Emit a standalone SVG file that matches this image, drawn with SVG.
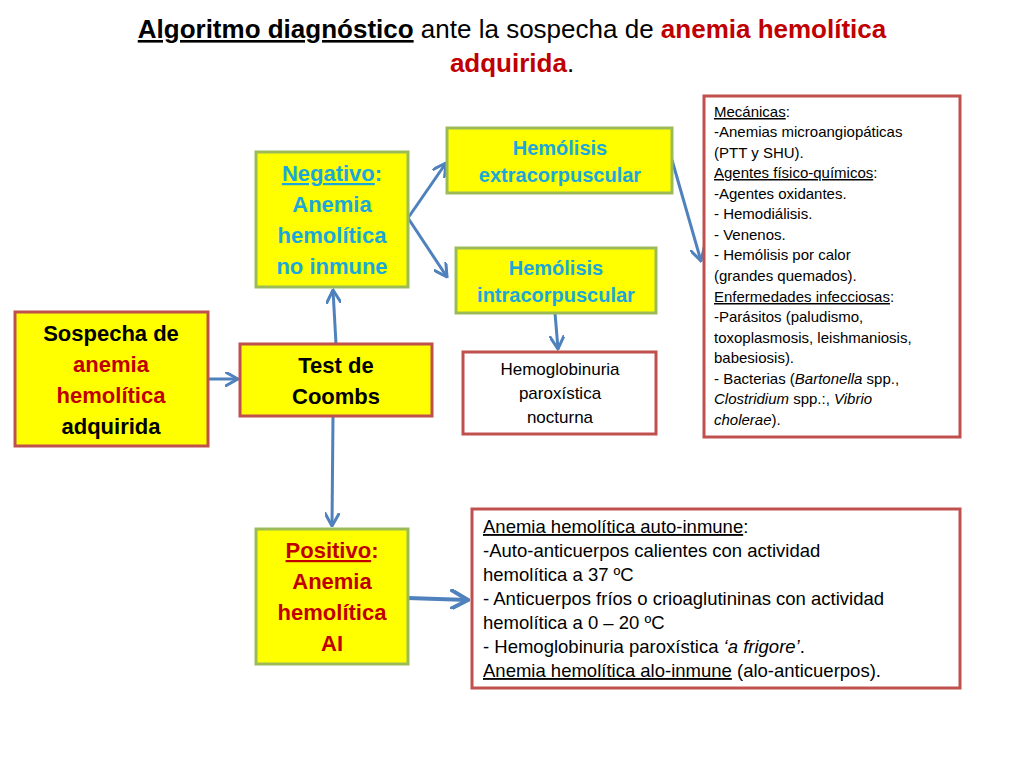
<svg xmlns="http://www.w3.org/2000/svg" width="1024" height="768" viewBox="0 0 1024 768">
<style>
text{font-family:"Liberation Sans","DejaVu Sans",sans-serif}
.y{fill:#ffff00;stroke:#9bbb59;stroke-width:3}
.r{stroke:#c0504d;stroke-width:3}
.b{font-weight:bold;font-size:22px;text-anchor:middle}
.cy{fill:#1aa7dc}
.dr{fill:#c00000}
.s{font-size:15px}
.m{font-size:18.5px}
.c line{stroke:#4f81bd;stroke-width:3;marker-end:url(#a)}
</style>
<defs><marker id="a" viewBox="0 0 10 10" refX="9" refY="5" markerWidth="5" markerHeight="5" orient="auto" markerUnits="strokeWidth"><path d="M0,0L9,5L0,10" fill="none" stroke="#4f81bd" stroke-width="2"/></marker></defs>
<rect width="1024" height="768" fill="#fff"/>
<g id="title" font-size="26" text-anchor="middle">
<text x="512" y="38"><tspan font-weight="bold" text-decoration="underline">Algoritmo diagnóstico</tspan> ante la sospecha de <tspan font-weight="bold" fill="#c00000">anemia hemolítica</tspan></text>
<text x="512" y="72"><tspan font-weight="bold" fill="#c00000">adquirida</tspan>.</text>
</g>
<g class="c">
<line x1="208" y1="379" x2="238" y2="379"/>
<line x1="336" y1="344" x2="333" y2="290"/>
<line x1="333" y1="416" x2="332" y2="526"/>
<line x1="408" y1="218" x2="446" y2="163"/>
<line x1="408" y1="218" x2="447" y2="277"/>
<line x1="555" y1="313" x2="558" y2="349"/>
<line x1="672" y1="160" x2="701" y2="261"/>
<line x1="408" y1="598" x2="468" y2="600" style="stroke-width:4"/>
</g>
<g id="sospecha"><rect class="y r" x="15" y="312" width="193" height="134"/>
<text class="b" x="111" y="341">Sospecha de</text>
<text class="b dr" x="111" y="372">anemia</text>
<text class="b dr" x="111" y="403">hemolítica</text>
<text class="b" x="111" y="434">adquirida</text></g>
<g id="coombs"><rect class="y r" x="240" y="344" width="192" height="72"/>
<text class="b" x="336" y="373">Test de</text>
<text class="b" x="336" y="404">Coombs</text></g>
<g id="negativo"><rect class="y" x="256" y="152" width="152" height="135"/>
<text class="b cy" x="332" y="181"><tspan text-decoration="underline">Negativo</tspan>:</text>
<text class="b cy" x="332" y="212">Anemia</text>
<text class="b cy" x="332" y="243">hemolítica</text>
<text class="b cy" x="332" y="274">no inmune</text></g>
<g id="extra"><rect class="y" x="447" y="128" width="225" height="65"/>
<text class="b cy" x="560" y="155" style="font-size:20px">Hemólisis</text>
<text class="b cy" x="560" y="182" style="font-size:20px">extracorpuscular</text></g>
<g id="intra"><rect class="y" x="456" y="248" width="200" height="65"/>
<text class="b cy" x="556" y="275" style="font-size:20px">Hemólisis</text>
<text class="b cy" x="556" y="302" style="font-size:20px">intracorpuscular</text></g>
<g id="hpn"><rect class="r" fill="#fff" x="463" y="352" width="193" height="82"/>
<g text-anchor="middle" font-size="17"><text x="560" y="375">Hemoglobinuria</text><text x="560" y="399">paroxística</text><text x="560" y="423">nocturna</text></g></g>
<g id="extra-list"><rect class="r" fill="#fff" x="704" y="96" width="256" height="341"/>
<g class="s">
<text x="714" y="117"><tspan text-decoration="underline">Mecánicas</tspan>:</text>
<text x="714" y="137">-Anemias microangiopáticas</text>
<text x="714" y="158">(PTT y SHU).</text>
<text x="714" y="178"><tspan text-decoration="underline">Agentes físico-químicos</tspan>:</text>
<text x="714" y="199">-Agentes oxidantes.</text>
<text x="714" y="219">- Hemodiálisis.</text>
<text x="714" y="240">- Venenos.</text>
<text x="714" y="260">- Hemólisis por calor</text>
<text x="714" y="281">(grandes quemados).</text>
<text x="714" y="302"><tspan text-decoration="underline">Enfermedades infecciosas</tspan>:</text>
<text x="714" y="322">-Parásitos (paludismo,</text>
<text x="714" y="343">toxoplasmosis, leishmaniosis,</text>
<text x="714" y="363">babesiosis).</text>
<text x="714" y="384">- Bacterias (<tspan font-style="italic">Bartonella</tspan> spp.,</text>
<text x="714" y="404"><tspan font-style="italic">Clostridium</tspan> spp.:, <tspan font-style="italic">Vibrio</tspan></text>
<text x="714" y="425"><tspan font-style="italic">cholerae</tspan>).</text>
</g></g>
<g id="positivo"><rect class="y" x="256" y="529" width="152" height="135"/>
<text class="b dr" x="332" y="558"><tspan text-decoration="underline">Positivo</tspan>:</text>
<text class="b dr" x="332" y="589">Anemia</text>
<text class="b dr" x="332" y="620">hemolítica</text>
<text class="b dr" x="332" y="651">AI</text></g>
<g id="ai-list"><rect class="r" fill="#fff" x="472" y="509" width="488" height="179"/>
<g class="m">
<text x="483" y="533"><tspan text-decoration="underline">Anemia hemolítica auto-inmune</tspan>:</text>
<text x="483" y="557">-Auto-anticuerpos calientes con actividad</text>
<text x="483" y="581">hemolítica a 37 ºC</text>
<text x="483" y="605">- Anticuerpos fríos o crioaglutininas con actividad</text>
<text x="483" y="629">hemolítica a 0 – 20 ºC</text>
<text x="483" y="653">- Hemoglobinuria paroxística <tspan font-style="italic">‘a frigore’</tspan>.</text>
<text x="483" y="677"><tspan text-decoration="underline">Anemia hemolítica alo-inmune</tspan> (alo-anticuerpos).</text>
</g></g>
</svg>
